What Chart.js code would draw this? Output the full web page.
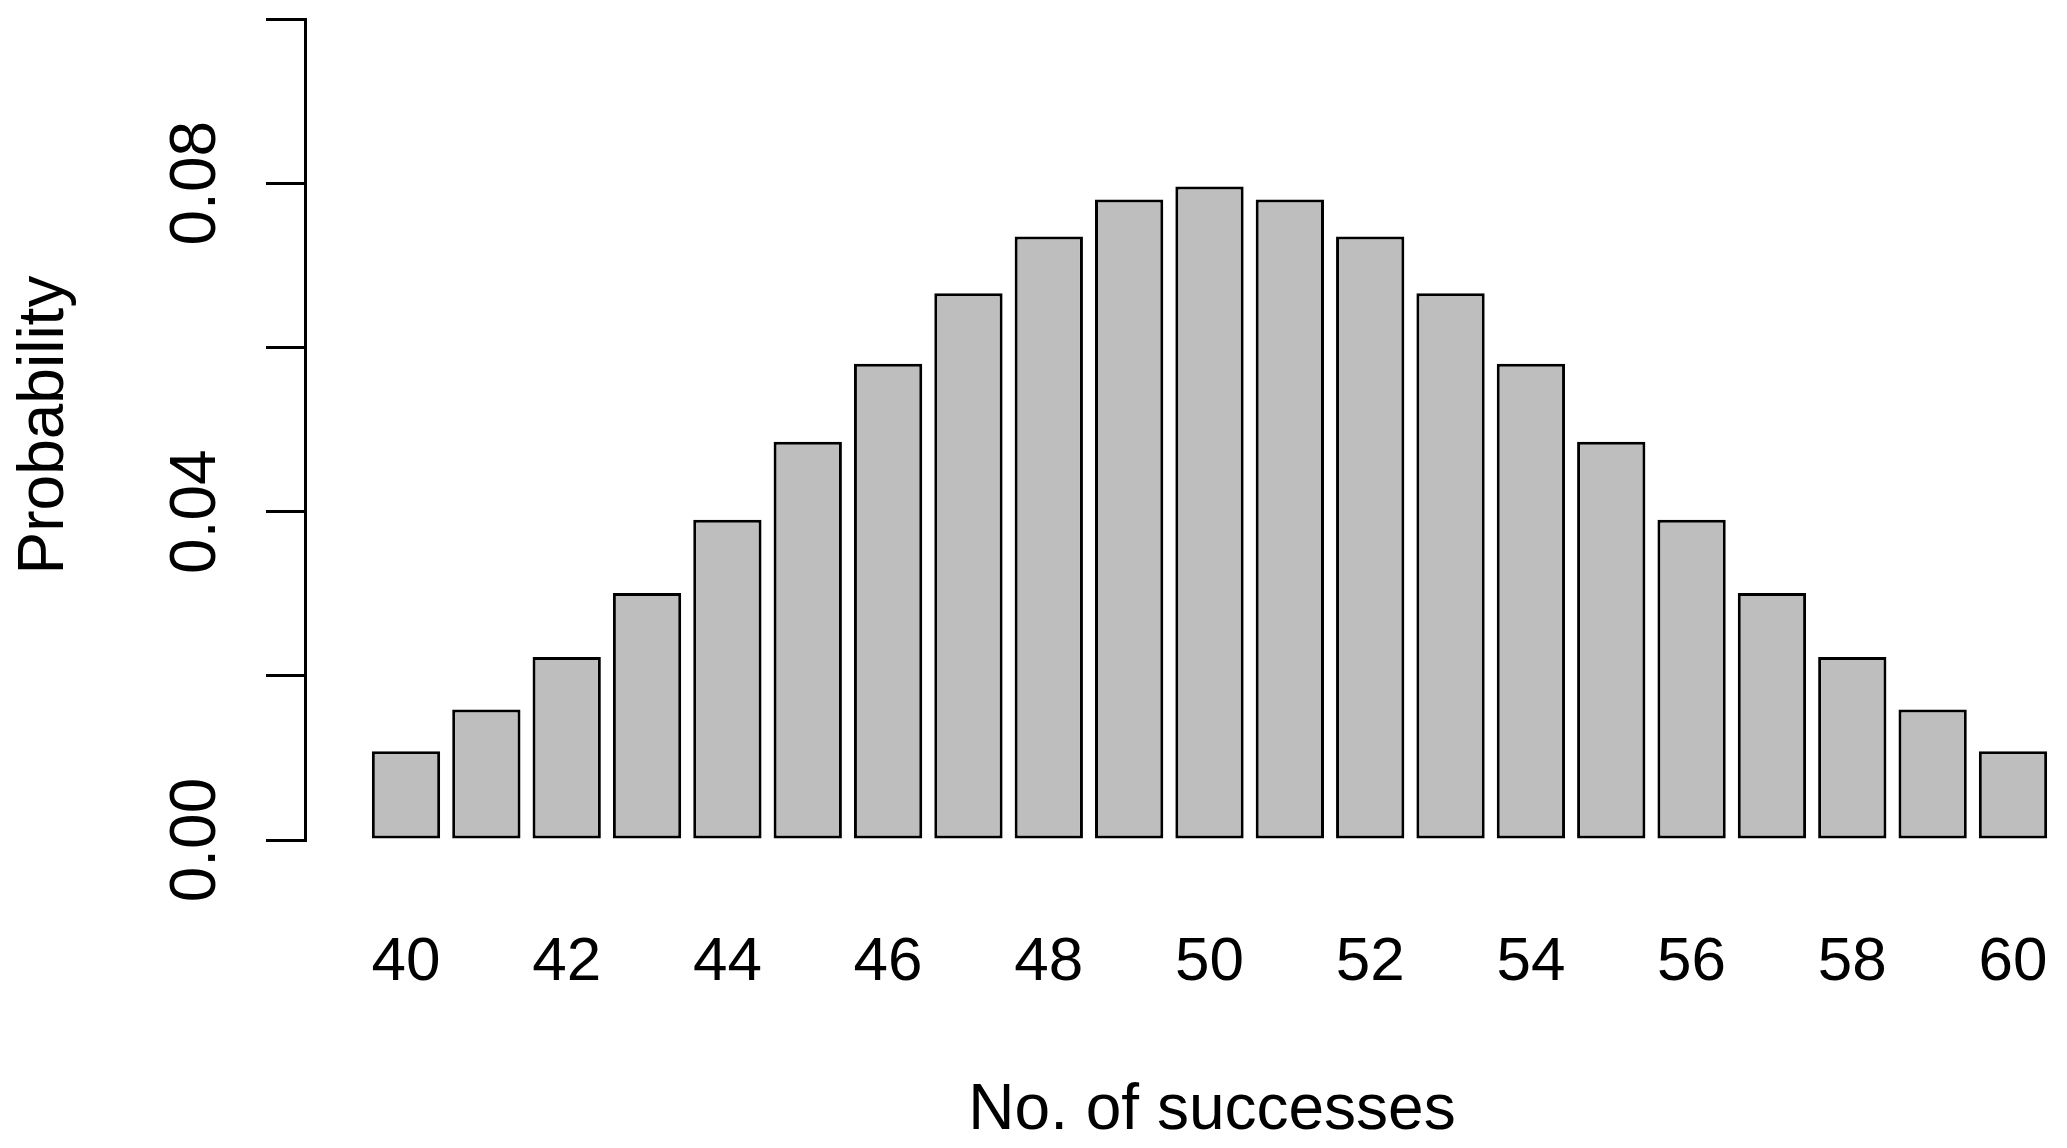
<!DOCTYPE html>
<html>
<head>
<meta charset="utf-8">
<script src="https://cdn.jsdelivr.net/npm/chart.js@4/dist/chart.umd.min.js"></script>
<style>
  html, body { margin: 0; padding: 0; background: #fff; }
  canvas { display: block; }
</style>
</head>
<body>
<canvas id="chart" width="2067" height="1148"></canvas>
<script>
// Binomial-looking distribution of successes
const successes = [40, 41, 42, 43, 44, 45, 46, 47, 48, 49, 50, 51, 52, 53, 54, 55, 56, 57, 58, 59, 60];
const probability = [0.0108, 0.0159, 0.0223, 0.0301, 0.0390, 0.0485, 0.0580, 0.0666, 0.0735, 0.0780, 0.0796,
                     0.0780, 0.0735, 0.0666, 0.0580, 0.0485, 0.0390, 0.0301, 0.0223, 0.0159, 0.0108];
const xTickLabels = [40, 42, 44, 46, 48, 50, 52, 54, 56, 58, 60];
const yTickLabels = [0.00, 0.04, 0.08];
const xTitle = 'No. of successes';
const yTitle = 'Probability';

const FONT = '"Liberation Sans", Arial, Helvetica, sans-serif';

// R style rotated y labels and axis titles
const textPlugin = {
    id: 'rText',
    afterDraw(chart) {
        const ctx = chart.ctx;
        const y = chart.scales.y;
        ctx.save();
        ctx.fillStyle = '#000';

        ctx.font = '64px ' + FONT;
        ctx.textAlign = 'center';
        ctx.textBaseline = 'alphabetic';
        yTickLabels.forEach(v => {
            const py = y.getPixelForValue(v);
            ctx.save();
            ctx.translate(215, py);
            ctx.rotate(-Math.PI / 2);
            ctx.fillText(v.toFixed(2), 0, 0);
            ctx.restore();
        });

        ctx.save();
        ctx.translate(63, 425);
        ctx.rotate(-Math.PI / 2);
        ctx.fillText(yTitle, 0, 0);
        ctx.restore();

        ctx.fillText(xTitle, 1212, 1129);
        ctx.restore();
    }
};

new Chart(document.getElementById('chart').getContext('2d'), {
    type: 'bar',
    data: {
        datasets: [{
            data: successes.map((s, i) => ({ x: s, y: probability[i] })),
            backgroundColor: 'rgb(190,190,190)',
            borderColor: '#000',
            borderWidth: 3,
            borderSkipped: false,
            categoryPercentage: 1,
            barPercentage: 0.85
        }]
    },
    options: {
        responsive: false,
        animation: false,
        events: [],
        layout: { padding: { top: 19, right: 5, left: 0, bottom: 0 } },
        plugins: {
            legend: { display: false },
            tooltip: { enabled: false }
        },
        scales: {
            x: {
                type: 'linear',
                offset: false,
                min: 38.743,
                max: 60.61,
                grid: { display: false },
                border: { display: false },
                afterBuildTicks: scale => { scale.ticks = xTickLabels.map(v => ({ value: v })); },
                afterFit: scale => {
                    scale.height = 308;
                    scale.paddingLeft = 0;
                    scale.paddingRight = 0;
                },
                ticks: {
                    color: '#000',
                    font: { family: FONT, size: 62 },
                    padding: 78,
                    maxRotation: 0,
                    autoSkip: false,
                    callback: v => String(v)
                }
            },
            y: {
                min: 0,
                max: 0.1,
                afterFit: scale => {
                    scale.width = 305;
                    scale.paddingTop = 0;
                    scale.paddingBottom = 0;
                },
                grid: {
                    drawOnChartArea: false,
                    drawTicks: true,
                    tickLength: 39,
                    lineWidth: 3,
                    color: '#000'
                },
                border: { display: true, color: '#000', width: 3 },
                ticks: {
                    stepSize: 0.02,
                    display: false
                }
            }
        }
    },
    plugins: [textPlugin]
});
</script>
</body>
</html>
